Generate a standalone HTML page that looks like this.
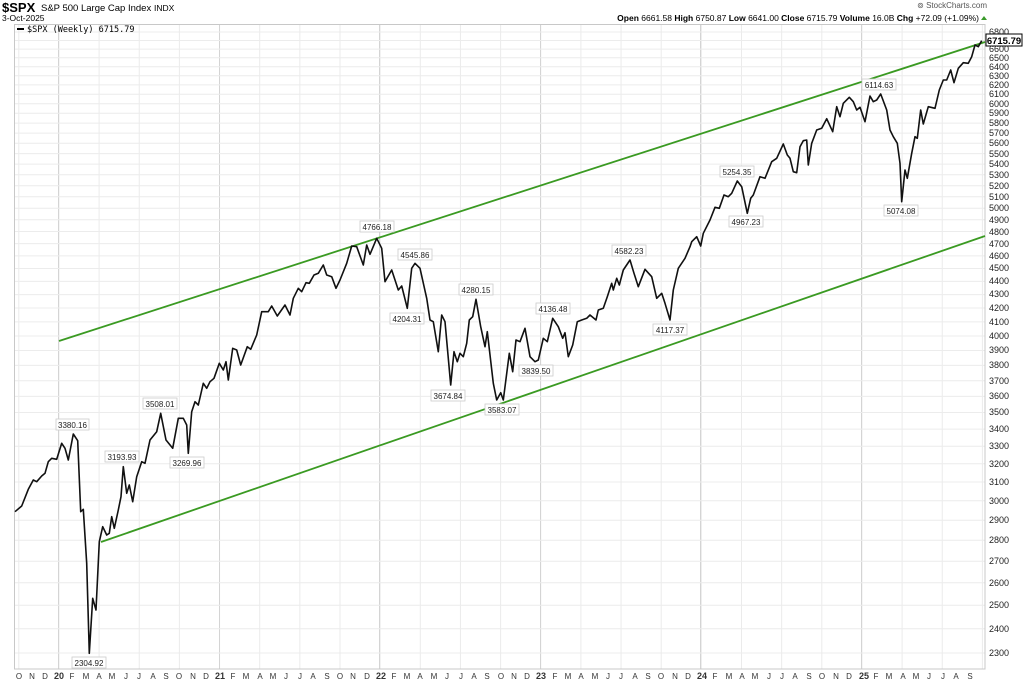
<!DOCTYPE html>
<html><head><meta charset="utf-8"><style>
body{margin:0;background:#fff;}
svg{display:block;font-family:"Liberation Sans",sans-serif;}
</style></head><body>
<svg width="1024" height="683" viewBox="0 0 1024 683" xmlns="http://www.w3.org/2000/svg">
<defs>
<pattern id="vg" patternUnits="userSpaceOnUse" x="18.3" y="0" width="40.15" height="683">
<line x1="0.5" y1="0" x2="0.5" y2="683" stroke="#ebebeb" stroke-width="1"/>
</pattern>
</defs>
<rect x="0" y="0" width="1024" height="683" fill="#fff"/>
<text x="2" y="12" font-size="13" font-weight="bold">$SPX</text>
<text x="41" y="11" font-size="9.5">S&amp;P 500 Large Cap Index</text>
<text x="154" y="11" font-size="8.5">INDX</text>
<text x="2" y="21" font-size="8.5">3-Oct-2025</text>
<text x="987" y="8" font-size="8" fill="#555" text-anchor="end">⊚ StockCharts.com</text>
<text x="979" y="21" font-size="8.5" text-anchor="end"><tspan font-weight="bold">Open</tspan> 6661.58  <tspan font-weight="bold">High</tspan> 6750.87  <tspan font-weight="bold">Low</tspan> 6641.00  <tspan font-weight="bold">Close</tspan> 6715.79  <tspan font-weight="bold">Volume</tspan> 16.0B  <tspan font-weight="bold">Chg</tspan> +72.09 (+1.09%)</text>
<polygon points="981,20 987,20 984,16" fill="#3a9a2a"/>
<rect x="14" y="24" width="971" height="645" fill="url(#vg)"/>
<g stroke="#d4d4d4" stroke-width="1">
<line x1="58.5" y1="24" x2="58.5" y2="669"/><line x1="219.5" y1="24" x2="219.5" y2="669"/><line x1="379.5" y1="24" x2="379.5" y2="669"/><line x1="540.5" y1="24" x2="540.5" y2="669"/><line x1="700.5" y1="24" x2="700.5" y2="669"/><line x1="861.5" y1="24" x2="861.5" y2="669"/>
</g>
<g stroke="#ececec" stroke-width="1">
<line x1="14" x2="985" y1="653" y2="653"/><line x1="14" x2="985" y1="628.7" y2="628.7"/><line x1="14" x2="985" y1="605.3" y2="605.3"/><line x1="14" x2="985" y1="582.8" y2="582.8"/><line x1="14" x2="985" y1="561.2" y2="561.2"/><line x1="14" x2="985" y1="540.3" y2="540.3"/><line x1="14" x2="985" y1="520.2" y2="520.2"/><line x1="14" x2="985" y1="500.8" y2="500.8"/><line x1="14" x2="985" y1="482" y2="482"/><line x1="14" x2="985" y1="463.8" y2="463.8"/><line x1="14" x2="985" y1="446.2" y2="446.2"/><line x1="14" x2="985" y1="429.1" y2="429.1"/><line x1="14" x2="985" y1="412.5" y2="412.5"/><line x1="14" x2="985" y1="396.4" y2="396.4"/><line x1="14" x2="985" y1="380.7" y2="380.7"/><line x1="14" x2="985" y1="365.4" y2="365.4"/><line x1="14" x2="985" y1="350.5" y2="350.5"/><line x1="14" x2="985" y1="336" y2="336"/><line x1="14" x2="985" y1="321.9" y2="321.9"/><line x1="14" x2="985" y1="308" y2="308"/><line x1="14" x2="985" y1="294.6" y2="294.6"/><line x1="14" x2="985" y1="281.4" y2="281.4"/><line x1="14" x2="985" y1="268.5" y2="268.5"/><line x1="14" x2="985" y1="255.9" y2="255.9"/><line x1="14" x2="985" y1="243.6" y2="243.6"/><line x1="14" x2="985" y1="231.5" y2="231.5"/><line x1="14" x2="985" y1="219.7" y2="219.7"/><line x1="14" x2="985" y1="208.2" y2="208.2"/><line x1="14" x2="985" y1="196.8" y2="196.8"/><line x1="14" x2="985" y1="185.7" y2="185.7"/><line x1="14" x2="985" y1="174.8" y2="174.8"/><line x1="14" x2="985" y1="164.1" y2="164.1"/><line x1="14" x2="985" y1="153.6" y2="153.6"/><line x1="14" x2="985" y1="143.2" y2="143.2"/><line x1="14" x2="985" y1="133.1" y2="133.1"/><line x1="14" x2="985" y1="123.1" y2="123.1"/><line x1="14" x2="985" y1="113.3" y2="113.3"/><line x1="14" x2="985" y1="103.7" y2="103.7"/><line x1="14" x2="985" y1="94.2" y2="94.2"/><line x1="14" x2="985" y1="84.9" y2="84.9"/><line x1="14" x2="985" y1="75.8" y2="75.8"/><line x1="14" x2="985" y1="66.7" y2="66.7"/><line x1="14" x2="985" y1="57.8" y2="57.8"/><line x1="14" x2="985" y1="49.1" y2="49.1"/><line x1="14" x2="985" y1="40.5" y2="40.5"/><line x1="14" x2="985" y1="32" y2="32"/>
</g>
<rect x="14.5" y="24.5" width="970.5" height="644.5" fill="none" stroke="#c8c8c8"/>
<line x1="17" y1="29" x2="24" y2="29" stroke="#000" stroke-width="2"/>
<text x="27" y="32" font-size="8.5" font-family="DejaVu Sans Mono, monospace">$SPX (Weekly) 6715.79</text>
<line x1="59" y1="341" x2="985" y2="42" stroke="#3a9a22" stroke-width="1.8"/>
<line x1="101" y1="542" x2="985" y2="236" stroke="#3a9a22" stroke-width="1.8"/>
<polyline fill="none" stroke="#111" stroke-width="1.6" stroke-linejoin="round" points="15,511.7 21.7,506 28.3,489.3 33.3,480 36.7,481.7 41.7,476 45,473.3 48.3,461.7 51.7,458.3 56.7,459.3 61.7,443.3 65,448.3 68.3,460 73.3,434 77.7,440.7 80.7,511.7 83.3,509.3 86.7,563.3 89.3,653.3 92.7,598.3 96,610 99.3,541.7 102.7,526.7 106.7,535 109.3,533.3 111.7,516.7 114.3,528.3 118.3,510 121,496.7 123.3,466.7 126.7,493.3 129.3,485 132.7,501.7 136.7,476.7 141.7,461.7 145,463.3 150,440 156.7,431.7 160.7,413.3 166,440 172.7,448.3 178.3,418.3 183.3,418.3 186.7,425 188.3,453.3 191.7,411.7 195,401.7 198.3,405 203.3,383.3 206.7,388.3 210,381.7 214,378.3 219.3,363.3 223.3,370 226,361.7 228.3,380 232.7,348.3 236.7,350 240.7,365 247.3,346.7 250.7,349.3 256.7,335 261.7,311.7 268.3,311.7 271.7,306 277.3,316 285,305 290,315 293.3,298.3 298.3,288.3 301.7,291.7 306,282.7 309.3,283.3 314,275 318.3,273.3 323.3,265 326.7,275 331.7,276.7 336,288.3 340,280 346.7,263.3 351.7,246 356.7,246.7 363.3,265 366.7,245 370,254.3 376.7,238.3 381.7,248.3 385,281.7 391.7,270 398.3,290 401.7,286 407.3,308.3 411.7,268.3 415,263.3 420,268.3 426.7,298.3 430,320 433.3,321.7 438.3,351.7 441.7,315 445,321.7 450.7,385 454,351.7 457.3,361.7 460,353.3 463.3,356.7 466.7,343.3 469.3,320 472.7,316.7 476,299.3 480.7,326.7 485,346.7 487.3,331.7 493.3,383.3 496.7,400 500.7,392.7 503.3,400 509.3,353.3 512.7,371.7 516,340 520,341.7 525,328.3 530,356.7 535,361.7 538.3,360 543.3,338.3 547.3,341.7 552.7,318.3 558.3,326.7 562.7,338.3 565,332.7 568.3,356.7 572.7,345 577.3,321.7 581.7,320 586.7,318.3 590,315 596,320 598.3,310 603.3,308.3 607.3,296.7 611.7,283.3 613.3,290 616.7,278.3 619.3,285 623.3,270 630,260 634,273.3 638.3,286.7 645,269.3 651.7,276.7 656.7,298.3 661.7,293.3 665,303.3 670,320 673.3,290 678.3,268.3 685,258.3 690,246.7 691.7,241.7 696.7,236.7 700.7,246 703.3,233.3 710,220 715,207.3 719.3,208.3 724,195 728.3,196.7 731.7,193.3 737.3,181 741.7,186.7 747.3,213.3 750.7,198.3 753.3,195 760,176.7 765,178.3 771.7,161.7 776.7,158.3 783.3,144 787.3,155 790,158.3 793.3,171.7 796.7,172.7 800,146.7 803.3,140.7 806.7,140 808.3,165 811.7,143.3 816.7,130 821.7,128.3 826.7,118.7 832.7,131.7 836.7,106.7 840,116.7 843.3,103.3 849.3,97.3 853.3,101.7 856.7,110 860,107.3 865,121.7 870,96 873.3,101.7 876.7,100 880.7,94 886.7,110 890,130 893.3,136.7 897.3,143.3 900,163.3 901.7,201.7 905,170 907.3,178.3 911.7,153.3 915,136.7 917.3,138.3 920.7,110 923.3,124 928.3,106.7 935,108.3 939.3,90 943.3,80 946.7,80 950.7,70 954,82.7 958.3,68.3 963.3,62.7 968.3,63.3 971.7,56.7 975,45 978.3,46.7 981.7,40.7"/>
<g font-size="8" text-anchor="middle" fill="#222">
<g fill="#fff" stroke="#ccc" stroke-width="0.8">
<rect x="56" y="419" width="33" height="11"/><rect x="72" y="657" width="34" height="11"/><rect x="105" y="451" width="34" height="11"/><rect x="143" y="398" width="34" height="11"/><rect x="170" y="457" width="34" height="11"/>
<rect x="360" y="221" width="34" height="11"/><rect x="398" y="249" width="34" height="11"/><rect x="390" y="313" width="34" height="11"/><rect x="459" y="284" width="34" height="11"/><rect x="431" y="390" width="34" height="11"/><rect x="485" y="404" width="34" height="11"/><rect x="519" y="365" width="34" height="11"/><rect x="536" y="303" width="34" height="11"/><rect x="612" y="245" width="34" height="11"/><rect x="653" y="324" width="34" height="11"/>
<rect x="720" y="166" width="34" height="11"/><rect x="729" y="216" width="34" height="11"/><rect x="862" y="79" width="34" height="11"/><rect x="884" y="205" width="34" height="11"/>
</g>
<text x="72.5" y="428">3380.16</text><text x="89" y="666">2304.92</text><text x="122" y="460">3193.93</text><text x="160" y="407">3508.01</text><text x="187" y="466">3269.96</text>
<text x="377" y="230">4766.18</text><text x="415" y="258">4545.86</text><text x="407" y="322">4204.31</text><text x="476" y="293">4280.15</text><text x="448" y="399">3674.84</text><text x="502" y="413">3583.07</text><text x="536" y="374">3839.50</text><text x="553" y="312">4136.48</text><text x="629" y="254">4582.23</text><text x="670" y="333">4117.37</text>
<text x="737" y="175">5254.35</text><text x="746" y="225">4967.23</text><text x="879" y="88">6114.63</text><text x="901" y="214">5074.08</text>
</g>
<g font-size="9" fill="#222">
<text x="989" y="656">2300</text><text x="989" y="632">2400</text><text x="989" y="608">2500</text><text x="989" y="586">2600</text><text x="989" y="564">2700</text><text x="989" y="543">2800</text><text x="989" y="523">2900</text><text x="989" y="504">3000</text><text x="989" y="485">3100</text><text x="989" y="467">3200</text><text x="989" y="449">3300</text><text x="989" y="432">3400</text><text x="989" y="415">3500</text><text x="989" y="399">3600</text><text x="989" y="384">3700</text><text x="989" y="368">3800</text><text x="989" y="353">3900</text><text x="989" y="339">4000</text><text x="989" y="325">4100</text><text x="989" y="311">4200</text><text x="989" y="297">4300</text><text x="989" y="284">4400</text><text x="989" y="271">4500</text><text x="989" y="259">4600</text><text x="989" y="247">4700</text><text x="989" y="235">4800</text><text x="989" y="223">4900</text><text x="989" y="211">5000</text><text x="989" y="200">5100</text><text x="989" y="189">5200</text><text x="989" y="178">5300</text><text x="989" y="167">5400</text><text x="989" y="157">5500</text><text x="989" y="146">5600</text><text x="989" y="136">5700</text><text x="989" y="126">5800</text><text x="989" y="116">5900</text><text x="989" y="107">6000</text><text x="989" y="97">6100</text><text x="989" y="88">6200</text><text x="989" y="79">6300</text><text x="989" y="70">6400</text><text x="989" y="61">6500</text><text x="989" y="52">6600</text><text x="989" y="35">6800</text>
</g>
<rect x="986" y="34" width="36" height="12" fill="#fff" stroke="#000" stroke-width="1"/>
<text x="1004" y="44" font-size="9.5" font-weight="bold" text-anchor="middle">6715.79</text>
<g font-size="8" fill="#333" text-anchor="middle">
<text x="19" y="679">O</text><text x="32" y="679">N</text><text x="45" y="679">D</text><text x="59" y="679" font-weight="bold" font-size="9">20</text><text x="72" y="679">F</text><text x="86" y="679">M</text><text x="99" y="679">A</text><text x="112" y="679">M</text><text x="126" y="679">J</text><text x="139" y="679">J</text><text x="153" y="679">A</text><text x="166" y="679">S</text><text x="179" y="679">O</text><text x="193" y="679">N</text><text x="206" y="679">D</text><text x="220" y="679" font-weight="bold" font-size="9">21</text><text x="233" y="679">F</text><text x="246" y="679">M</text><text x="260" y="679">A</text><text x="273" y="679">M</text><text x="286" y="679">J</text><text x="300" y="679">J</text><text x="313" y="679">A</text><text x="327" y="679">S</text><text x="340" y="679">O</text><text x="353" y="679">N</text><text x="367" y="679">D</text><text x="381" y="679" font-weight="bold" font-size="9">22</text><text x="394" y="679">F</text><text x="407" y="679">M</text><text x="420" y="679">A</text><text x="434" y="679">M</text><text x="447" y="679">J</text><text x="461" y="679">J</text><text x="474" y="679">A</text><text x="487" y="679">S</text><text x="501" y="679">O</text><text x="514" y="679">N</text><text x="527" y="679">D</text><text x="541" y="679" font-weight="bold" font-size="9">23</text><text x="555" y="679">F</text><text x="568" y="679">M</text><text x="581" y="679">A</text><text x="595" y="679">M</text><text x="608" y="679">J</text><text x="621" y="679">J</text><text x="635" y="679">A</text><text x="648" y="679">S</text><text x="661" y="679">O</text><text x="675" y="679">N</text><text x="688" y="679">D</text><text x="702" y="679" font-weight="bold" font-size="9">24</text><text x="715" y="679">F</text><text x="729" y="679">M</text><text x="742" y="679">A</text><text x="755" y="679">M</text><text x="769" y="679">J</text><text x="782" y="679">J</text><text x="795" y="679">A</text><text x="809" y="679">S</text><text x="822" y="679">O</text><text x="836" y="679">N</text><text x="849" y="679">D</text><text x="864" y="679" font-weight="bold" font-size="9">25</text><text x="876" y="679">F</text><text x="889" y="679">M</text><text x="903" y="679">A</text><text x="916" y="679">M</text><text x="929" y="679">J</text><text x="943" y="679">J</text><text x="956" y="679">A</text><text x="970" y="679">S</text>
</g>
</svg>
</body></html>
